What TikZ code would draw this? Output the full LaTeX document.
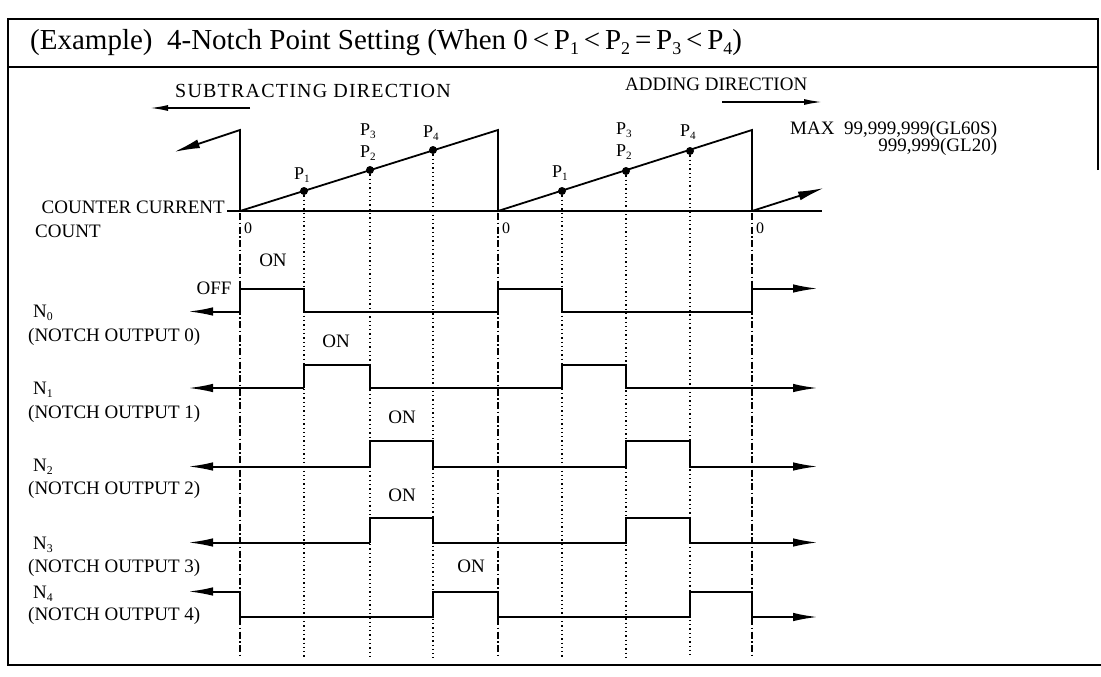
\documentclass[tikz,border=0pt]{standalone}
\usepackage{fontspec}
\setmainfont{Liberation Serif}
\usetikzlibrary{arrows.meta}
\newcommand\psub[1]{\raisebox{-0.35ex}{\scalebox{0.62}{#1}}}
\begin{document}
\begin{tikzpicture}[x=1pt,y=-1pt,
  frame/.style={line width=1.4pt},
  wave/.style={line width=2pt, line join=miter},
  saw/.style={line width=1.8pt},
  guide/.style={line width=1.3pt, dash pattern=on 1.3pt off 3pt},
  zeroline/.style={line width=1.3pt, dash pattern=on 7pt off 2.5pt on 1.5pt off 2.5pt},
  bigtip/.style={-{Latex[length=25pt,width=8.5pt]}},
  lbl/.style={font=\fontsize{19}{21}\selectfont, inner sep=0pt},
  plbl/.style={font=\fontsize{18}{20}\selectfont, inner sep=0pt},
  zlbl/.style={font=\fontsize{16}{18}\selectfont, inner sep=0pt},
  dot/.style={circle, fill=black, inner sep=0pt, minimum size=8pt}
]
\useasboundingbox (0,0) rectangle (1101,677);
% frame
\draw[frame] (1098,170) -- (1098,19) -- (8,19) -- (8,665) -- (1101,665);
\draw[frame] (8,67) -- (1098,67);
\node[inner sep=0pt, anchor=west, font=\fontsize{29}{31}\selectfont] (title) at (30,43)
  {(Example)\ \ 4-Notch Point Setting (When 0\,<\,P\psub{1}\,<\,P\psub{2}\,=\,P\psub{3}\,<\,P\psub{4})};
% direction labels
\node[lbl, anchor=west] (sub) at (175,91) {\fontsize{20}{22}\selectfont\addfontfeature{LetterSpace=6}SUBTRACTING DIRECTION};
\coordinate (subA) at (250,108);
\coordinate (subB) at (150,108);
\draw[line width=1.5pt, -{Latex[length=18pt,width=6pt]}] (subA) -- (subB);
\node[lbl, anchor=west] (add) at (625,84) {ADDING DIRECTION};
\coordinate (addA) at (722,102);
\coordinate (addB) at (822,102);
\draw[line width=1.5pt, -{Latex[length=18pt,width=6pt]}] (addA) -- (addB);
\node[inner sep=0pt, anchor=west, font=\fontsize{19}{21}\selectfont] (max1) at (790,130) {MAX\ \ 99,999,999(GL60S)};
\node[inner sep=0pt, anchor=east, font=\fontsize{19}{21}\selectfont] (max2) at (max1.east |- 0,147) {999,999(GL20)};
% counter
\node[lbl, anchor=east] (ccc) at (225,207) {COUNTER CURRENT};
\node[lbl, anchor=west] (cnt) at (35,231) {COUNT};
\coordinate (bl0) at (227,211);
\coordinate (bl1) at (822,211);
\draw[line width=1.3pt] (bl0) -- (bl1);
% guide lines
\foreach \x in {240,498,752} \draw[zeroline] (\x,213) -- (\x,658);
\foreach \x/\y in {304/191,370/170,433/150,562/191,626/171,690/151} \draw[guide] (\x,\y) -- (\x,658);
% sawtooth
\coordinate (lt) at (240,130);
\coordinate (ltip) at (174,152);
\coordinate (s0) at (240,211);
\coordinate (pk1) at (498,130);
\coordinate (s1) at (498,211);
\coordinate (pk2) at (752,130);
\coordinate (s2) at (752,211);
\coordinate (rtip) at (824,188);
\draw[saw, -{Latex[length=26pt,width=9pt]}] (s0) -- (lt) -- (ltip);
\draw[saw] (s0) -- (pk1) -- (s1) -- (pk2) -- (s2);
\draw[saw, -{Latex[length=26pt,width=9pt]}] (s2) -- (rtip);
% dots
\node[dot] (d1) at (304,191) {};
\node[dot] (d2) at (370,170) {};
\node[dot] (d4) at (433,150) {};
\node[dot] (e1) at (562,191) {};
\node[dot] (e2) at (626,171) {};
\node[dot] (e4) at (690,151) {};
\node[plbl] (l1) at (302,175) {P\psub{1}};
\node[plbl] (l2) at (368,153) {P\psub{2}};
\node[plbl] (l3) at (368,131) {P\psub{3}};
\node[plbl] (l4) at (431,133) {P\psub{4}};
\node[plbl] (m1) at (560,173) {P\psub{1}};
\node[plbl] (m2) at (624,152) {P\psub{2}};
\node[plbl] (m3) at (624,130) {P\psub{3}};
\node[plbl] (m4) at (688,132) {P\psub{4}};
\node[zlbl, anchor=west] (z0) at (244,228) {0};
\node[zlbl, anchor=west] (z1) at (502,228) {0};
\node[zlbl, anchor=west] (z2) at (756,228) {0};
% outputs labels
\node[lbl, anchor=west] (n0) at (33,313) {N\psub{0}};
\node[lbl, anchor=west] (n0p) at (28,337) {(NOTCH OUTPUT 0)};
\node[lbl, anchor=west] (n1) at (33,390) {N\psub{1}};
\node[lbl, anchor=west] (n1p) at (28,414) {(NOTCH OUTPUT 1)};
\node[lbl, anchor=west] (n2) at (33,467) {N\psub{2}};
\node[lbl, anchor=west] (n2p) at (28,490) {(NOTCH OUTPUT 2)};
\node[lbl, anchor=west] (n3) at (33,545) {N\psub{3}};
\node[lbl, anchor=west] (n3p) at (28,568) {(NOTCH OUTPUT 3)};
\node[lbl, anchor=west] (n4) at (33,594) {N\psub{4}};
\node[lbl, anchor=west] (n4p) at (28,616) {(NOTCH OUTPUT 4)};
\node[lbl] (on0) at (273,260) {ON};
\node[lbl] (off0) at (214,288) {OFF};
\node[lbl] (on1) at (336,341) {ON};
\node[lbl] (on2) at (402,417) {ON};
\node[lbl] (on3) at (402,495) {ON};
\node[lbl] (on4) at (471,566) {ON};
% waveforms
\draw[wave, bigtip] (240,311.5) -- (188,311.5);
\draw[wave, bigtip] (240,311.5) -- (240,288.5) -- (304,288.5) -- (304,311.5) -- (498,311.5) -- (498,288.5) -- (562,288.5) -- (562,311.5) -- (752,311.5) -- (752,288.5) -- (818,288.5);
\draw[wave, bigtip] (304,388) -- (188,388);
\draw[wave, bigtip] (304,388) -- (304,365) -- (370,365) -- (370,388) -- (562,388) -- (562,365) -- (626,365) -- (626,388) -- (818,388);
\draw[wave, bigtip] (370,466.5) -- (188,466.5);
\draw[wave, bigtip] (370,466.5) -- (370,441) -- (433,441) -- (433,466.5) -- (626,466.5) -- (626,441) -- (690,441) -- (690,466.5) -- (818,466.5);
\draw[wave, bigtip] (370,542.5) -- (188,542.5);
\draw[wave, bigtip] (370,542.5) -- (370,518) -- (433,518) -- (433,542.5) -- (626,542.5) -- (626,518) -- (690,518) -- (690,542.5) -- (818,542.5);
\draw[wave, bigtip] (240,591.5) -- (188,591.5);
\draw[wave, bigtip] (240,591.5) -- (240,617) -- (433,617) -- (433,591.5) -- (498,591.5) -- (498,617) -- (690,617) -- (690,591.5) -- (752,591.5) -- (752,617) -- (818,617);
\end{tikzpicture}
\end{document}
